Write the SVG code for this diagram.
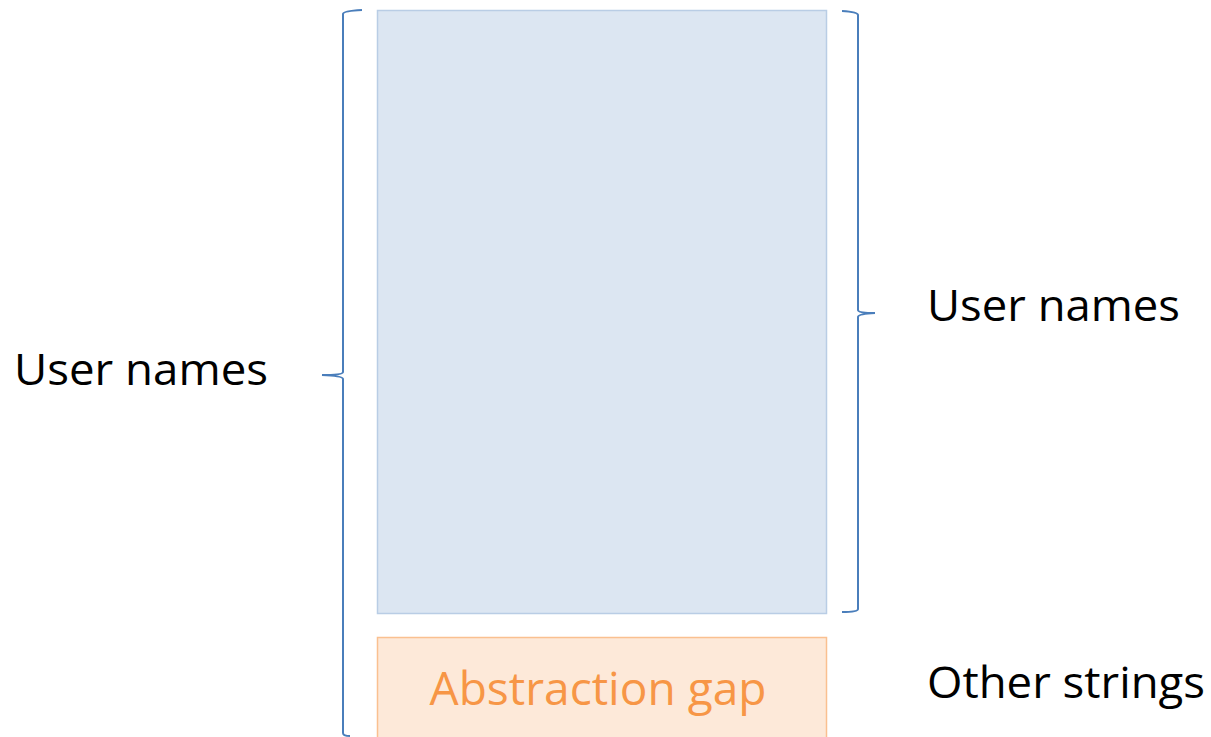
<svg xmlns="http://www.w3.org/2000/svg" width="1211" height="737" viewBox="0 0 1211 737">
<style>
.lbl{font-family:"Open Sans","Liberation Sans",sans-serif;font-size:44px;fill:#000}
.br{fill:none;stroke:#4a7ebb;stroke-width:2}
</style>
<rect width="1211" height="737" fill="#fff"/>
<g id="users-box"><rect x="377.5" y="10.5" width="449" height="603" fill="#dce6f2" stroke="#b9cde5" stroke-width="1.5"/></g>
<g id="gap-box"><rect x="377.5" y="637.5" width="449" height="110" fill="#fde9d9" stroke="#fac090" stroke-width="1.5"/>
<text x="598" y="705" text-anchor="middle" font-family="Open Sans, Liberation Sans, sans-serif" font-size="46" fill="#f79646" textLength="337" lengthAdjust="spacingAndGlyphs">Abstraction gap</text></g>
<g id="connectors">
<path class="br" d="M362 10 Q343 11 343 14 L343 372 Q343 375 322 375 Q343 376 343 379 L343 733 Q343 736 350 736"/>
<path class="br" d="M842 11 Q858 12 858 15 L858 310 Q858 313 875 313 Q858 314 858 317 L858 609 Q858 612 842 612"/>
</g>
<g id="left-label"><text class="lbl" x="14" y="385" textLength="254" lengthAdjust="spacingAndGlyphs">User names</text></g>
<g id="right-label"><text class="lbl" x="927" y="321" textLength="253" lengthAdjust="spacingAndGlyphs">User names</text></g>
<g id="other-label"><text class="lbl" x="927" y="698" textLength="278" lengthAdjust="spacingAndGlyphs">Other strings</text></g>
</svg>
